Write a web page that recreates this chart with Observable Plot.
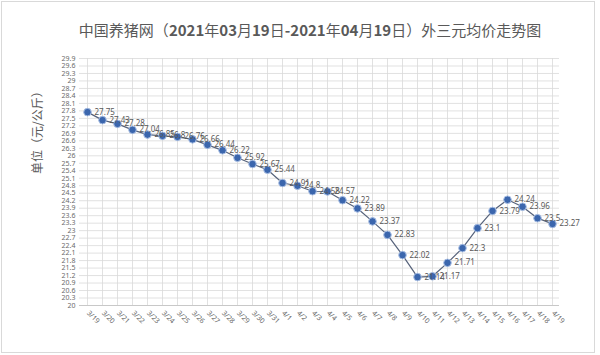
<!DOCTYPE html>
<html><head><meta charset="utf-8">
<script src="https://cdn.jsdelivr.net/npm/d3@7"></script>
<script src="https://cdn.jsdelivr.net/npm/@observablehq/plot@0.6"></script>
<style>
body{margin:0;background:#fff;}
#wrap{position:relative;width:600px;height:355px;overflow:hidden;font-family:"Noto Sans CJK SC","Noto Sans",sans-serif;}
#frame{position:absolute;left:1px;top:1px;width:592px;height:350px;border:1px solid #d9d9d9;pointer-events:none;}
#title{box-sizing:border-box;height:45px;padding-top:20px;padding-left:20px;width:600px;text-align:center;font-size:15px;line-height:20px;color:#595959;white-space:nowrap;}
#title b{font-weight:700;}
#chart svg{display:block;}
</style></head>
<body>
<div id="wrap">
<div id="frame"></div>
<div id="title">中国养猪网（<b>2021</b>年<b>03</b>月<b>19</b>日<b>-2021</b>年<b>04</b>月<b>19</b>日）外三元均价走势图</div>
<div id="chart"></div>
</div>
<script>
const dates = ["3/19","3/20","3/21","3/22","3/23","3/24","3/25","3/26","3/27","3/28","3/29","3/30","3/31",
  "4/1","4/2","4/3","4/4","4/5","4/6","4/7","4/8","4/9","4/10","4/11","4/12","4/13","4/14","4/15","4/16","4/17","4/18","4/19"];
const prices = [27.75,27.43,27.28,27.04,26.85,26.8,26.76,26.66,26.44,26.22,25.92,25.67,25.44,
  24.91,24.8,24.58,24.57,24.22,23.89,23.37,22.83,22.02,21.14,21.17,21.71,22.3,23.1,23.79,24.24,23.96,23.5,23.27];
const yTicks = [20,20.3,20.6,20.9,21.2,21.5,21.8,22.1,22.4,22.7,23,23.3,23.6,23.9,24.2,24.5,24.8,25.1,25.4,25.7,
  26,26.3,26.6,26.9,27.2,27.5,27.8,28.1,28.4,28.7,29,29.3,29.6,29.9];
const yTitle = "单位（元/公斤）";

const data = dates.map((d, i) => ({date: d, price: prices[i]}));
const font = "'Noto Sans','Liberation Sans',sans-serif";

const chart = Plot.plot({
  width: 600, height: 310,
  marginLeft: 79, marginRight: 41, marginTop: 13, marginBottom: 50,
  x: {type: "point", domain: dates, padding: 0, axis: null},
  y: {domain: [20, 29.9], axis: null},
  style: {fontFamily: font, background: "transparent", overflow: "visible"},
  marks: [
    Plot.ruleY(yTicks, {y: d => d, stroke: "#d9d9d9", strokeWidth: 0.8}),
    Plot.ruleX(dates, {x: d => d, stroke: "#d9d9d9", strokeWidth: 0.8}),
    Plot.ruleY([20], {y: d => d, stroke: "#c8c8c8", strokeWidth: 1}),
    Plot.text(yTicks, {y: d => d, frameAnchor: "left", dx: -4, textAnchor: "end",
      text: d => String(+d.toFixed(1)), fontSize: 7, fill: "#6b6b6b"}),
    Plot.text(dates, {x: d => d, frameAnchor: "bottom", rotate: 45, textAnchor: "start",
      dx: -1, dy: 8, text: d => d, fontSize: 7, fill: "#6b6b6b"}),
    Plot.text([yTitle], {frameAnchor: "left", dx: -41, dy: -8, rotate: -90, text: d => d,
      fontSize: 12, fill: "#595959", fontFamily: "'Noto Sans CJK SC',sans-serif"}),
    Plot.line(data, {x: "date", y: "price", stroke: "#56627a", strokeWidth: 1.2}),
    Plot.dot(data, {x: "date", y: "price", r: 3.8, fill: "#3b66ad", stroke: "#a9bfe4", strokeWidth: 1}),
    Plot.text(data, {x: "date", y: "price", text: d => String(d.price), dx: 7, textAnchor: "start",
      fontSize: 8, fill: "#595959"})
  ]
});
document.getElementById("chart").append(chart);
</script>
</body></html>
